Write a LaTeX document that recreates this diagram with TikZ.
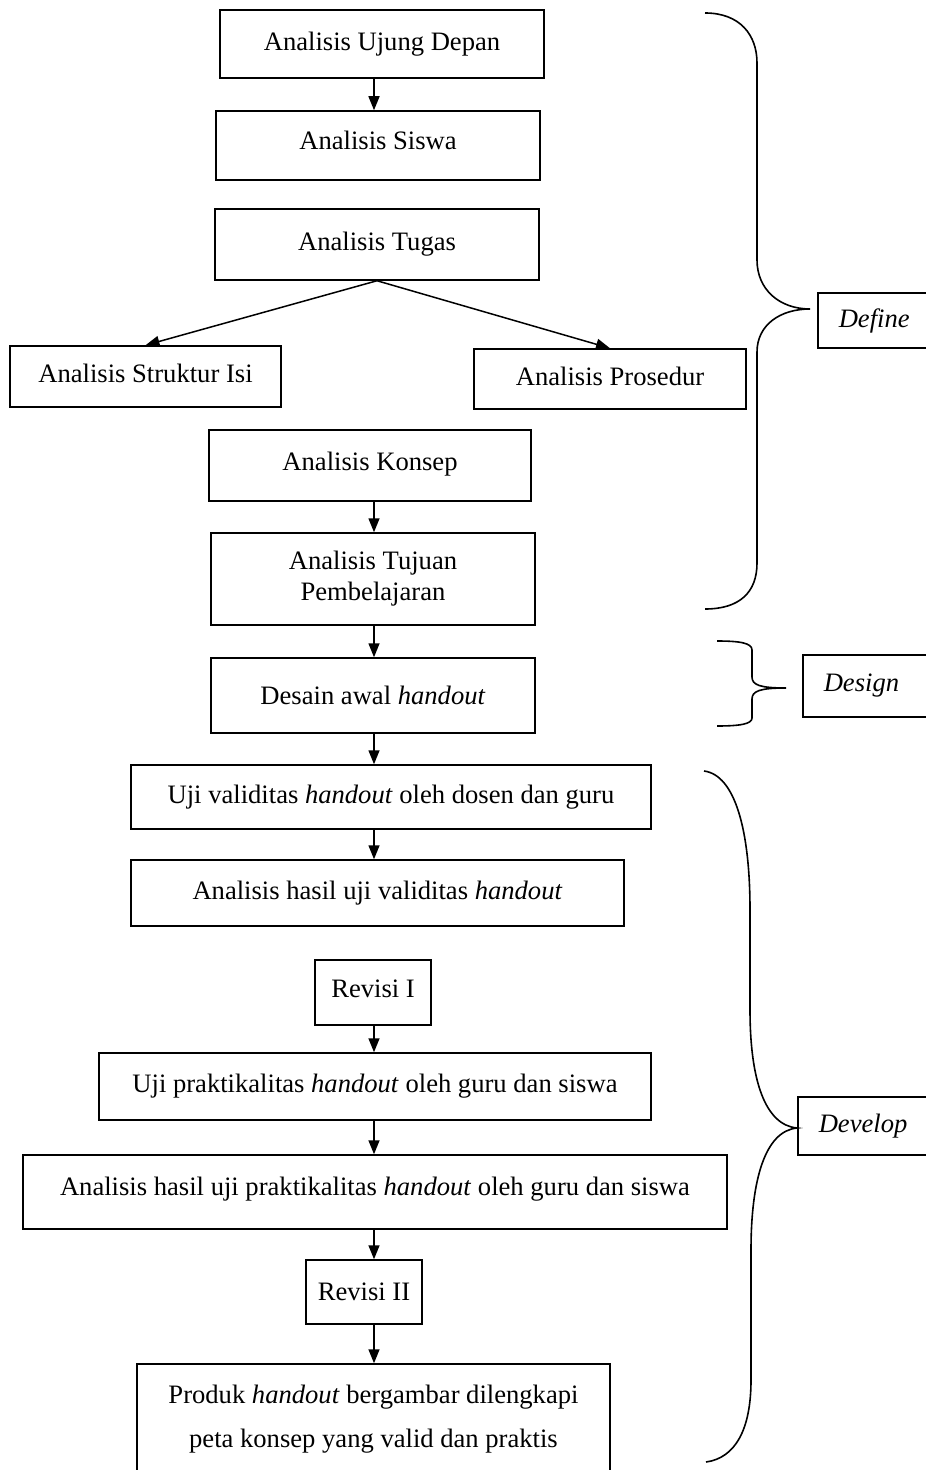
\documentclass[tikz,border=0pt]{standalone}
\usepackage{fontspec}
\setmainfont{Liberation Serif}
\usetikzlibrary{arrows.meta,positioning}

\begin{document}
\begin{tikzpicture}[x=0.5pt,y=-0.5pt,
  kotak/.style={draw,line width=0.75pt,inner sep=0pt,align=center,
    font=\fontsize{13.3}{15.5}\selectfont},
  tahap/.style={draw,line width=0.75pt,inner xsep=10.5pt,inner ysep=0pt,align=left,
    font=\fontsize{13.3}{15.5}\selectfont\itshape},
  panah/.style={-{Triangle[length=7pt,width=5.5pt]},line width=0.75pt},
  kurung/.style={line width=0.8pt}
]
  \useasboundingbox (0,0) rectangle (925,1470);
  \coordinate (spine) at (374,0);
  % Define
  \node[kotak,minimum width=162pt,minimum height=34pt] (ujung) at (382,44) {Analisis Ujung Depan};
  \node[kotak,minimum width=162pt,minimum height=34.5pt,text depth=5pt] (siswa) at (378,145.5) {Analisis Siswa};
  \node[kotak,minimum width=162pt,minimum height=35.5pt] (tugas) at (377,244.5) {Analisis Tugas};
  \node[kotak,minimum width=135.5pt,minimum height=30.5pt,text depth=3pt] (struktur) at (145.5,376.5) {Analisis Struktur Isi};
  \node[kotak,minimum width=136pt,minimum height=30pt,text depth=3pt] (prosedur) at (610,379) {Analisis Prosedur};
  \node[kotak,minimum width=161pt,minimum height=35.5pt,text depth=4pt] (konsep) at (370,465.5) {Analisis Konsep};
  \node[kotak,minimum width=162pt,minimum height=46pt] (tujuan) at (373,579) {Analisis Tujuan\\Pembelajaran};
  % Design
  \node[kotak,minimum width=162pt,minimum height=37.5pt] (desain) at (373,695.5) {Desain awal \textit{handout}};
  % Develop
  \node[kotak,minimum width=260pt,minimum height=32pt] (ujival) at (391,797) {Uji validitas \textit{handout} oleh dosen dan guru};
  \node[kotak,minimum width=246.5pt,minimum height=33pt] (hasilval) at (377.5,893) {Analisis hasil uji validitas \textit{handout}};
  \node[kotak,minimum width=58pt,minimum height=32.5pt,text depth=4pt] (revisi1) at (373,992.5) {Revisi I};
  \node[kotak,minimum width=276pt,minimum height=33.5pt] (ujiprak) at (375,1086.5) {Uji praktikalitas \textit{handout} oleh guru dan siswa};
  \node[kotak,minimum width=352pt,minimum height=37pt,text depth=6pt] (hasilprak) at (375,1192) {Analisis hasil uji praktikalitas \textit{handout} oleh guru dan siswa};
  \node[kotak,minimum width=58pt,minimum height=32pt] (revisi2) at (364,1292) {Revisi II};
  \node[kotak,minimum width=236.5pt,minimum height=55.5pt,
    font=\fontsize{13.3}{22}\selectfont] (produk) at (373.5,1419.5)
    {Produk \textit{handout} bergambar dilengkapi\\peta konsep yang valid dan praktis};

  % Tahap
  \node[tahap,text width=38pt,minimum height=27.5pt,anchor=west] (define) at (817,320.5) {Define};
  \node[tahap,text width=45.5pt,minimum height=31pt,anchor=west] (design) at (802,686) {Design};
  \node[tahap,text width=48pt,minimum height=29pt,anchor=west] (develop) at (797,1126) {Develop};

  % Arrows
  \foreach \a/\b in {ujung/siswa, konsep/tujuan, tujuan/desain, desain/ujival, ujival/hasilval,
      revisi1/ujiprak, ujiprak/hasilprak, hasilprak/revisi2, revisi2/produk} {
    \draw[panah] (\a.south -| spine) -- (\b.north -| spine);
  }
  \draw[panah] (tugas.south) -- (struktur.north);
  \draw[panah] (tugas.south) -- (prosedur.north);

  % Kurung kurawal
  \draw[kurung] (705,13) .. controls (740,13) and (757,35) .. (757,63) -- (757,260)
    .. controls (757,290) and (780,309) .. (810,309)
    .. controls (780,309) and (757,325) .. (757,352) -- (757,563)
    .. controls (757,592) and (740,609) .. (705,609);
  \draw[kurung] (717,641) .. controls (740,641) and (752,643) .. (752,650) -- (752,677)
    .. controls (752,685) and (760,688) .. (786,688)
    .. controls (760,688) and (752,691) .. (752,699) -- (752,718)
    .. controls (752,724) and (740,726) .. (717,726);
  \draw[kurung] (704,771) .. controls (735,775) and (750,830) .. (750,910) -- (750,1010)
    .. controls (750,1080) and (765,1125) .. (797,1128)
    .. controls (765,1131) and (751,1180) .. (751,1250) -- (751,1380)
    .. controls (751,1430) and (735,1458) .. (706,1462);
\end{tikzpicture}
\end{document}
